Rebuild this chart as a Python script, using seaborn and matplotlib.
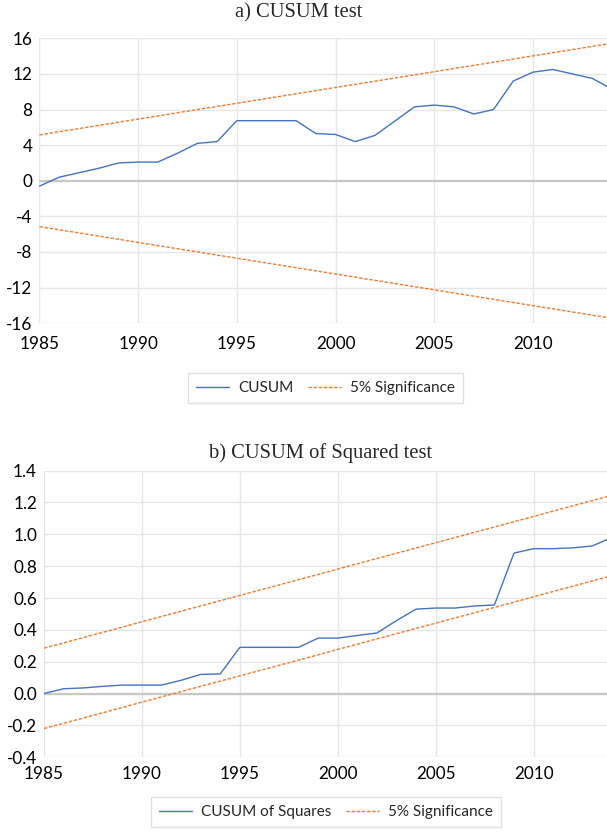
"""CUSUM and CUSUM of Squares stability tests (1985-2014)."""

import matplotlib
import matplotlib.pyplot as plt
import numpy as np
import pandas as pd
import seaborn as sns

matplotlib.use("Agg")

# ------------------------------------------------------------
# Data
# ------------------------------------------------------------
years = list(range(1985, 2015))

cusum = [-0.6, 0.4, 0.9, 1.4, 2.0, 2.1, 2.1, 3.1, 4.2, 4.4,
         6.75, 6.75, 6.75, 6.75, 5.3, 5.2, 4.4, 5.1, 6.7, 8.3,
         8.5, 8.3, 7.5, 8.0, 11.2, 12.2, 12.5, 12.0, 11.5, 10.3]

cusum_upper = [5.15, 5.51, 5.86, 6.22, 6.57, 6.93, 7.28, 7.64, 7.99, 8.35,
               8.70, 9.06, 9.41, 9.77, 10.12, 10.48, 10.83, 11.19, 11.54, 11.90,
               12.25, 12.61, 12.96, 13.32, 13.67, 14.03, 14.38, 14.74, 15.09, 15.45]
cusum_lower = [-v for v in cusum_upper]

cusumsq = [0.00, 0.03, 0.035, 0.045, 0.053, 0.053, 0.053, 0.083, 0.12, 0.123,
           0.29, 0.29, 0.29, 0.29, 0.348, 0.348, 0.365, 0.38, 0.458, 0.53,
           0.537, 0.537, 0.55, 0.556, 0.882, 0.91, 0.91, 0.915, 0.927, 0.98]

cusumsq_upper = [0.285, 0.318, 0.351, 0.384, 0.417, 0.451, 0.484, 0.517, 0.550, 0.583,
                 0.616, 0.649, 0.682, 0.715, 0.748, 0.782, 0.815, 0.848, 0.881, 0.914,
                 0.947, 0.980, 1.013, 1.046, 1.079, 1.112, 1.146, 1.179, 1.212, 1.245]
cusumsq_lower = [-0.220, -0.187, -0.154, -0.121, -0.088, -0.054, -0.021, 0.012, 0.045, 0.078,
                 0.111, 0.144, 0.177, 0.210, 0.243, 0.277, 0.310, 0.343, 0.376, 0.409,
                 0.442, 0.475, 0.508, 0.541, 0.574, 0.607, 0.641, 0.674, 0.707, 0.740]

BLUE = "#4472C4"
ORANGE = "#ED7D31"
GRID = "#E6E6E6"

sns.set_theme(style="white")
plt.rcParams["font.family"] = ["Lato", "DejaVu Sans"]

fig = plt.figure(figsize=(6.07, 8.33), dpi=100)
ax1 = fig.add_axes([0.065, 0.612, 0.935, 0.342])
ax2 = fig.add_axes([0.0725, 0.091, 0.9275, 0.344])


def draw_panel(ax, stat, upper, lower, stat_label, title, title_xy, leg_xy,
               yticks, ylabels, xpad):
    df = pd.DataFrame({"year": years, "stat": stat, "upper": upper, "lower": lower})
    sns.lineplot(data=df, x="year", y="stat", ax=ax, color=BLUE, lw=1.0,
                 label=stat_label)
    sns.lineplot(data=df, x="year", y="upper", ax=ax, color=ORANGE, lw=1.0,
                 label="5% Significance")
    sns.lineplot(data=df, x="year", y="lower", ax=ax, color=ORANGE, lw=1.0,
                 legend=False)
    for line in ax.lines[1:]:
        line.set_dashes([2.5, 1.2])

    ax.set_xlim(1985, 2013.75)
    ax.set_ylim(yticks[0], yticks[-1])
    ax.set_xticks([1985, 1990, 1995, 2000, 2005, 2010])
    ax.set_yticks(yticks)
    ax.set_yticklabels(ylabels)
    ax.grid(True, color=GRID, lw=1.0)
    ax.axhline(0, color="#C8C8C8", lw=1.6, zorder=1)
    for s in ax.spines.values():
        s.set_visible(False)
    ax.tick_params(axis="both", length=0, labelsize=12.3, colors="black")
    ax.tick_params(axis="x", pad=xpad)
    ax.tick_params(axis="y", pad=5)
    ax.set_xlabel("")
    ax.set_ylabel("")
    fig.text(title_xy[0], title_xy[1], title, family="Liberation Serif",
             fontsize=14.8, ha="center", va="center")
    handles, labels = ax.get_legend_handles_labels()
    ax.legend_.remove()
    leg = fig.legend(handles, labels, loc="center", bbox_to_anchor=leg_xy, ncol=2,
                     frameon=True, fancybox=False, fontsize=11, handlelength=2.2,
                     handletextpad=0.6, columnspacing=0.9, borderpad=0.5)
    leg.get_frame().set_edgecolor("#D9D9D9")
    leg.get_frame().set_linewidth(1.0)


draw_panel(ax1, cusum, cusum_upper, cusum_lower, "CUSUM", "a) CUSUM test",
           (299 / 607, 1 - 13 / 833), (325.5 / 607, 1 - 388 / 833),
           np.arange(-16, 17, 4), [str(v) for v in range(-16, 17, 4)], 9)
draw_panel(ax2, cusumsq, cusumsq_upper, cusumsq_lower, "CUSUM of Squares",
           "b) CUSUM of Squared test",
           (321 / 607, 1 - 453 / 833), (326 / 607, 1 - 812 / 833),
           np.round(np.arange(-0.4, 1.41, 0.2), 1),
           [f"{v:.1f}" for v in np.round(np.arange(-0.4, 1.41, 0.2), 1)], 6)

fig.savefig("out.png", dpi=100)
